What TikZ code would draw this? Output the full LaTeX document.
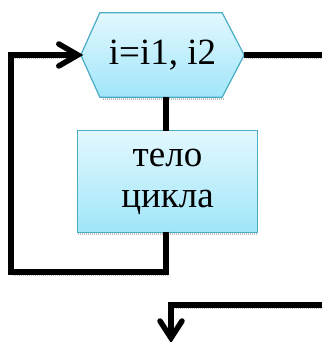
\documentclass[tikz,border=0pt]{standalone}
\usepackage{fontspec}
\setmainfont{Liberation Serif}
\usetikzlibrary{calc}
\definecolor{boxtop}{RGB}{227,248,254}
\definecolor{boxbot}{RGB}{160,230,249}
\definecolor{boxedge}{RGB}{75,172,198}
\tikzset{
  flow/.style={line width=5.5pt, line cap=butt, line join=miter},
  chev/.style={line width=5.5pt, line cap=round, line join=miter},
  shade/.style={line width=2.5pt, draw=gray!50, dash pattern=on 1.2pt off 0.8pt},
  boxfill/.style={top color=boxtop, bottom color=boxbot, draw=boxedge, line width=1.2pt},
  txt/.style={font=\fontsize{37}{41}\selectfont, align=center, inner sep=0pt}
}
\begin{document}
\begin{tikzpicture}[x=1pt,y=1pt]
\useasboundingbox (0,0) rectangle (322,342);
% text anchors
\node[txt, minimum width=163, minimum height=84] (hex) at (162.5,287) {};
\node[txt, minimum width=179, minimum height=101] (body) at (167.5,160.5) {};
% node shadows
\draw[shade] ($(hex.south west)+(22,-2)$) -- ($(hex.south east)+(-20,-2)$);
\draw[shade] ($(body.south west)+(0,-2)$) -- ($(body.south east)+(0,-2)$);
% connector shadows
\draw[shade] (13,284) -- (76,284);
\draw[shade] (13,67) -- (168,67);
\draw[shade] (246,284) -- (322,284);
\draw[shade] (174,34) -- (322,34);
% shapes
\path[boxfill] (hex.west) -- ($(hex.north west)+(19,0)$) -- ($(hex.north east)+(-22,0)$) -- (hex.east) -- ($(hex.south east)+(-22,0)$) -- ($(hex.south west)+(19,0)$) -- cycle;
\path[boxfill] (body.south west) rectangle (body.north east);
\node[txt] at (hex.center) {i=i1, i2};
\node[txt] at (body.center) {тело\\цикла};
% connectors
\coordinate (loopbl) at (11,70);
\coordinate (looptl) at (11,287);
\coordinate (loopbr) at (166,70);
\coordinate (looptip) at ($(hex.west)+(-3,0)$);
\draw[flow] (166,245) -- (166,211);
\draw[flow] (166,110) -- (loopbr) -- (loopbl) -- (looptl) -- (looptip);
\draw[chev] ($(looptip)+(-19,11)$) -- (looptip) -- ($(looptip)+(-19,-11)$);
\coordinate (exitR) at (322,287);
\draw[flow] (hex.east) -- (exitR);
\coordinate (inR) at (322,37);
\coordinate (inC) at (171,37);
\coordinate (inEnd) at (171,4);
\draw[flow] (inR) -- (inC) -- (inEnd);
\draw[chev] ($(inEnd)+(-11,17)$) -- (inEnd) -- ($(inEnd)+(11,17)$);
\end{tikzpicture}
\end{document}
